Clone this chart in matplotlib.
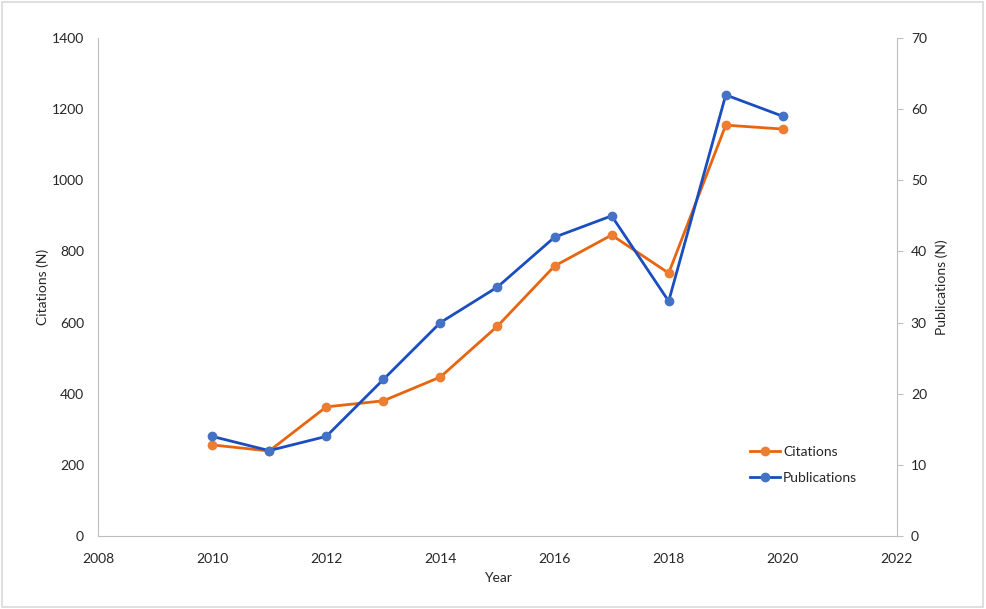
"""Citations and publications per year, dual axis line chart"""
import matplotlib
matplotlib.use("Agg")
import matplotlib.pyplot as plt
from matplotlib.patches import Rectangle

years = [2010, 2011, 2012, 2013, 2014, 2015, 2016, 2017, 2018, 2019, 2020]
citations = [256, 239, 363, 380, 447, 590, 759, 846, 739, 1155, 1144]
publications = [14, 12, 14, 22, 30, 35, 42, 45, 33, 62, 59]

plt.rcParams['font.family'] = ['Lato', 'DejaVu Sans']
plt.rcParams['font.size'] = 10

fig = plt.figure(figsize=(9.86, 6.09), dpi=100)
ax = fig.add_axes([0.0994, 0.1199, 0.8103, 0.8177])
ax2 = ax.twinx()

grey = '#bfbfbf'
txt = '#262626'

l1, = ax.plot(years, citations, color='#E8650F', lw=2, marker='o', ms=6,
              mfc='#ED7D31', mec='#ED7D31', label='Citations')
l2, = ax2.plot(years, publications, color='#1A4EBE', lw=2, marker='o', ms=6,
               mfc='#4472C4', mec='#4472C4', label='Publications')

ax.set_xlim(2008, 2022)
ax.set_xticks(range(2008, 2023, 2))
ax.set_ylim(0, 1400)
ax.set_yticks(range(0, 1401, 200))
ax2.set_ylim(0, 70)
ax2.set_yticks(range(0, 71, 10))

for a in (ax, ax2):
    a.spines['top'].set_visible(False)
    for s in ('left', 'right', 'bottom'):
        a.spines[s].set_color(grey)
ax.spines['right'].set_visible(False)
ax2.spines['left'].set_visible(False)
ax2.spines['bottom'].set_visible(False)

ax.tick_params(axis='y', length=0, pad=10, labelcolor=txt)
ax.tick_params(axis='x', length=0, pad=12, labelcolor=txt)
ax2.tick_params(axis='y', length=4, color=grey, pad=6, labelcolor=txt)

ax.set_xlabel('Year', color=txt, labelpad=5)
ax.set_ylabel('Citations (N)', color=txt, labelpad=2)
ax2.set_ylabel('Publications (N)', color=txt, labelpad=6)

ax.legend([l1, l2], ['Citations', 'Publications'], loc='center left',
          bbox_to_anchor=(0.8, 0.142), frameon=False, handlelength=2.2,
          labelspacing=1.0, handletextpad=0.2, labelcolor=txt)

fig.patches.append(Rectangle((0.002, 0.004), 0.995, 0.992, transform=fig.transFigure,
                             fill=False, edgecolor='#d9d9d9', lw=1.2))

fig.savefig('out.png', dpi=100)
